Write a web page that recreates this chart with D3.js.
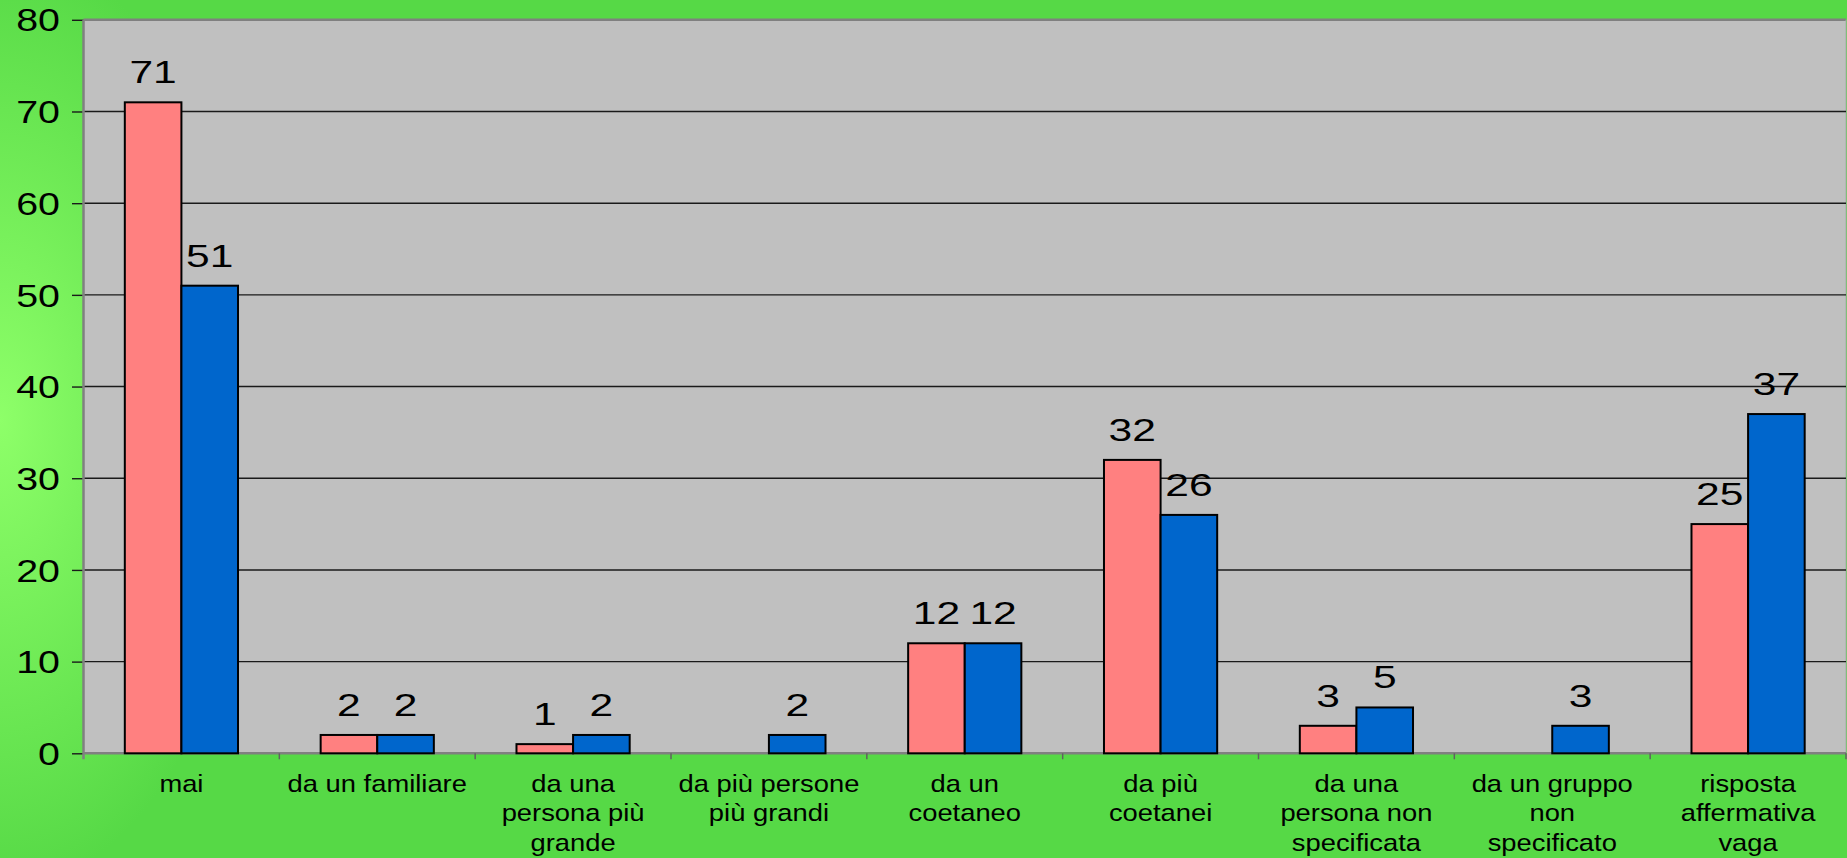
<!DOCTYPE html>
<html>
<head>
<meta charset="utf-8">
<script src="https://cdn.jsdelivr.net/npm/d3@7"></script>
<style>
  html, body { margin: 0; padding: 0; background: #56D946; }
  svg { display: block; }
  text { font-family: "Liberation Sans", Arial, sans-serif; fill: #000; }
</style>
</head>
<body>
<svg id="chart" width="1847" height="858"></svg>
<script>
// Categories (line breaks mark how each axis label wraps)
const categories = [
  "mai",
  "da un familiare",
  "da una\npersona più\ngrande",
  "da più persone\npiù grandi",
  "da un\ncoetaneo",
  "da più\ncoetanei",
  "da una\npersona non\nspecificata",
  "da un gruppo\nnon\nspecificato",
  "risposta\naffermativa\nvaga"
];
// Two series; null = no answer in that category
const seriesPink = [71, 2, 1, null, 12, 32, 3, null, 25];
const seriesBlue = [51, 2, 2, 2, 12, 26, 5, 3, 37];
const yTicks = [0, 10, 20, 30, 40, 50, 60, 70, 80];

const W = 1847, H = 858;
const plot = { left: 83.5, right: 1846, top: 19.8, bottom: 753.3 };
const colors = ["#FF8080", "#0066CC"];

const svg = d3.select("#chart");

// Background: green with a brighter glow on the left side
const defs = svg.append("defs");
const rg = defs.append("radialGradient")
  .attr("id", "bgGlow")
  .attr("gradientUnits", "userSpaceOnUse")
  .attr("cx", 0).attr("cy", 0).attr("r", 1)
  .attr("gradientTransform", "translate(0,420) scale(260,470)");
rg.append("stop").attr("offset", "0%").attr("stop-color", "#8EFF69");
rg.append("stop").attr("offset", "100%").attr("stop-color", "#56D946");
svg.append("rect").attr("width", W).attr("height", H).attr("fill", "url(#bgGlow)");

const x = d3.scaleBand().domain(d3.range(categories.length))
  .range([plot.left, plot.right]).paddingInner(0).paddingOuter(0);
const xSub = d3.scaleBand().domain([0, 1])
  .range([0, x.bandwidth()]).paddingInner(0).paddingOuter(0.73);
const y = d3.scaleLinear().domain([0, 80]).range([plot.bottom, plot.top]);

// Plot area
svg.append("rect")
  .attr("x", plot.left).attr("y", plot.top)
  .attr("width", plot.right - plot.left).attr("height", plot.bottom - plot.top)
  .attr("fill", "#C0C0C0");
svg.append("line")
  .attr("x1", plot.left).attr("x2", plot.right)
  .attr("y1", plot.top).attr("y2", plot.top)
  .attr("stroke", "#808080").attr("stroke-width", 2.5);
svg.append("line")
  .attr("x1", plot.right).attr("x2", plot.right)
  .attr("y1", plot.top).attr("y2", plot.bottom)
  .attr("stroke", "#A8A8A8").attr("stroke-width", 1);

// Gridlines
svg.append("g").selectAll("line")
  .data(yTicks.filter(d => d > 0 && d < 80))
  .join("line")
  .attr("x1", plot.left).attr("x2", plot.right)
  .attr("y1", d => y(d)).attr("y2", d => y(d))
  .attr("stroke", "#1A1A1A").attr("stroke-width", 1.4);

// Y axis
const yAxis = svg.append("g")
  .attr("transform", `translate(${plot.left},0)`)
  .call(d3.axisLeft(y).tickValues(yTicks).tickSize(11.5).tickPadding(12));
yAxis.select(".domain").remove();
yAxis.selectAll(".tick line").attr("stroke", "#1A1A1A").attr("stroke-width", 1.4);
yAxis.selectAll(".tick text")
  .attr("font-size", 31)
  .attr("font-family", null)
  .attr("text-anchor", "end")
  .each(function () {
    const t = d3.select(this);
    const xx = +t.attr("x");
    t.attr("x", null).attr("dy", "0.36em")
      .attr("transform", `translate(${xx},0) scale(1.27,1)`);
  });
svg.append("line")
  .attr("x1", plot.left).attr("x2", plot.left)
  .attr("y1", plot.top).attr("y2", plot.bottom + 6)
  .attr("stroke", "#808080").attr("stroke-width", 2.5);

// X axis line and category ticks
svg.append("line")
  .attr("x1", plot.left).attr("x2", plot.right)
  .attr("y1", plot.bottom).attr("y2", plot.bottom)
  .attr("stroke", "#808080").attr("stroke-width", 2.5);
svg.append("g").selectAll("line")
  .data(d3.range(1, categories.length + 1))
  .join("line")
  .attr("x1", i => i < categories.length ? x(i) : plot.right)
  .attr("x2", i => i < categories.length ? x(i) : plot.right)
  .attr("y1", plot.bottom).attr("y2", plot.bottom + 6)
  .attr("stroke", "#606060").attr("stroke-width", 1.5);

// Bars
const rows = categories.map((c, i) => ({ i, vals: [seriesPink[i], seriesBlue[i]] }));
const groups = svg.append("g").selectAll("g")
  .data(rows).join("g")
  .attr("transform", d => `translate(${x(d.i)},0)`);

const cells = groups.selectAll("g")
  .data(d => d.vals.map((v, s) => ({ v, s })).filter(e => e.v !== null))
  .join("g");

cells.append("rect")
  .attr("x", d => xSub(d.s))
  .attr("width", xSub.bandwidth())
  .attr("y", d => y(d.v))
  .attr("height", d => y(0) - y(d.v))
  .attr("fill", d => colors[d.s])
  .attr("stroke", "#000").attr("stroke-width", 2);

// Value labels
cells.append("text")
  .attr("text-anchor", "middle")
  .attr("font-size", 32)
  .attr("transform", d => `translate(${xSub(d.s) + xSub.bandwidth() / 2},${y(d.v) - 19}) scale(1.33,1)`)
  .text(d => d.v);

// Category labels
const catLabels = svg.append("g").selectAll("text")
  .data(categories).join("text")
  .attr("text-anchor", "middle")
  .attr("font-size", 24)
  .attr("transform", (d, i) => `translate(${x(i) + x.bandwidth() / 2},791.5) scale(1.14,1)`);
catLabels.selectAll("tspan")
  .data(d => d.split("\n"))
  .join("tspan")
  .attr("x", 0)
  .attr("y", (d, k) => k * 30)
  .text(d => d);
</script>
</body>
</html>
